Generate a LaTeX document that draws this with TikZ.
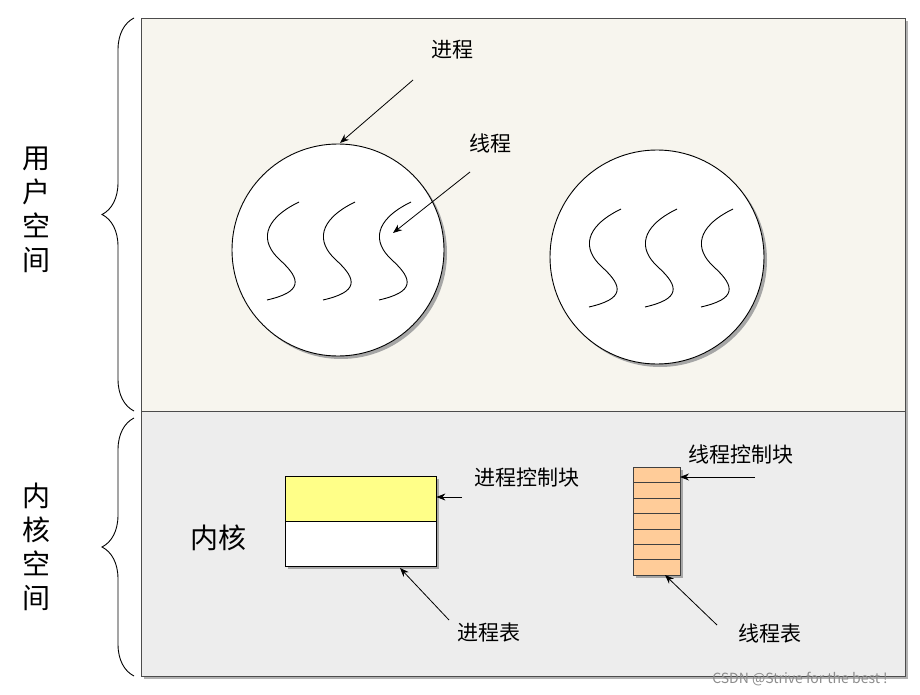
\documentclass[tikz,border=0pt]{standalone}
\usepackage{fontspec}
\setmainfont{Noto Sans CJK SC}
\usetikzlibrary{decorations.pathreplacing,arrows.meta}
\definecolor{userbg}{HTML}{F7F5EE}
\definecolor{kernbg}{HTML}{EDEDED}
\definecolor{pcb}{HTML}{FFFF88}
\definecolor{tcb}{HTML}{FFCC99}
\begin{document}
\begin{tikzpicture}[x=1pt,y=-1pt,
  lbl/.style={font=\fontsize{21}{23}\selectfont},
  big/.style={font=\fontsize{28}{34}\selectfont, align=center},
  arr/.style={-{Stealth[length=9pt,width=7pt]}, line width=0.8pt},
  thr/.style={line width=0.9pt},
  shd/.style={fill=black!35}]
\useasboundingbox (0,0) rectangle (920,695);
% regions
\fill[black!30] (144,21) rectangle (908,679);
\draw[fill=userbg, draw=black!70] (141,18) rectangle (905,411);
\draw[fill=kernbg, draw=black!70] (141,411) rectangle (905,676);
% braces
\draw[decorate,decoration={brace,amplitude=32pt,aspect=0.5},line width=0.9pt] (134,411) -- (134,18);
\draw[decorate,decoration={brace,amplitude=32pt,aspect=0.5},line width=0.9pt] (134,676) -- (134,418);
\node[big] (us) at (36,210) {用\\户\\空\\间};
\node[big] (ks) at (36,547) {内\\核\\空\\间};
% circles
\fill[black!35] (341,253) circle (106);
\draw[fill=white, line width=0.9pt] (338,250) circle (106) coordinate (c1);
\fill[black!35] (660,260) circle (107);
\draw[fill=white, line width=0.9pt] (657,257) circle (107) coordinate (c2);
\foreach \dx/\dy in {0/0,56/0,112/0,322/7,378/7,434/7}{
  \draw[thr] (299+\dx,202+\dy) .. controls (262+\dx,220+\dy) and (260+\dx,242+\dy) .. (280+\dx,260+\dy)
     .. controls (302+\dx,280+\dy) and (302+\dx,292+\dy) .. (267+\dx,300+\dy);
}
\node[lbl] (pl) at (452,50) {进程};
\coordinate (pa) at (413,80);
\coordinate (pt) at (340,143);
\draw[arr] (pa) -- (pt);
\node[lbl] (tl) at (490,143) {线程};
\coordinate (ta) at (470,172);
\coordinate (tt) at (393,233);
\draw[arr] (ta) -- (tt);
% process table
\fill[black!35] (288,479) rectangle (439,569);
\node[draw, fill=pcb, minimum width=151pt, minimum height=45pt, inner sep=0pt, anchor=north west] (pcb) at (285,476) {};
\node[draw, fill=white, minimum width=151pt, minimum height=45pt, inner sep=0pt, anchor=north west] (ptab) at (285,521) {};
\node[big] (kn) at (218,538) {内核};
\node[lbl] (pcl) at (527,478) {进程控制块};
\coordinate (pcs) at (462,497);
\draw[arr] (pcs) -- (pcs -| pcb.east);
\node[lbl] (ptl) at (489,633) {进程表};
\coordinate (pts) at (449,620);
\coordinate (ptt) at (400,568);
\draw[arr] (pts) -- (ptt);
% thread table
\fill[black!35] (636,470) rectangle (683,578);
\foreach \i in {0,...,6}{
  \draw[fill=tcb, draw=black!75] (633,467+\i*15.43) rectangle (680,467+\i*15.43+15.43);
}
\coordinate (tcbr) at (680,477);
\node[lbl] (tcl) at (741,455) {线程控制块};
\coordinate (tcs) at (755,477);
\draw[arr] (tcs) -- (tcbr);
\node[lbl] (ttl) at (770,633) {线程表};
\coordinate (tts) at (717,625);
\coordinate (ttt) at (665,575);
\draw[arr] (tts) -- (ttt);
\node[font=\fontsize{14}{16}\selectfont, text=black!45] (wm) at (800,679) {CSDN @Strive for the best !};
\end{tikzpicture}
\end{document}
